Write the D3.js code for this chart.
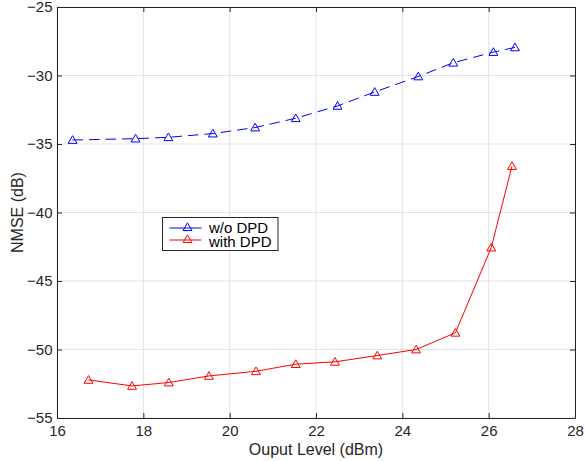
<!DOCTYPE html>
<html>
<head>
<meta charset="utf-8">
<script src="https://cdn.jsdelivr.net/npm/d3@7"></script>
<style>
  html, body { margin: 0; padding: 0; background: #fff; }
  svg { display: block; font-family: "Liberation Sans", Arial, Helvetica, sans-serif; }
</style>
</head>
<body>
<svg id="chart" width="586" height="461"></svg>
<script>
// Output power level (dBm) and NMSE (dB) for each configuration
const woDpdX = [16.36, 17.82, 18.58, 19.61, 20.59, 21.53, 22.50, 23.36, 24.37, 25.18, 26.11, 26.61];
const woDpdY = [-34.71, -34.61, -34.51, -34.24, -33.80, -33.12, -32.22, -31.20, -30.07, -29.07, -28.29, -27.95];
const withDpdX = [16.73, 17.74, 18.59, 19.52, 20.61, 21.53, 22.44, 23.42, 24.32, 25.23, 26.06, 26.54];
const withDpdY = [-52.22, -52.66, -52.41, -51.93, -51.59, -51.07, -50.90, -50.44, -50.00, -48.78, -42.56, -36.61];
const xTicks = [16, 18, 20, 22, 24, 26, 28];
const yTicks = [-55, -50, -45, -40, -35, -30, -25];
const seriesNames = ["w/o DPD", "with DPD"];

const svg = d3.select("#chart");
const margin = { left: 57, right: 11, top: 7, bottom: 43 };
const W = 586, H = 461;
const x = d3.scaleLinear().domain([16, 28]).range([margin.left, W - margin.right]);
const y = d3.scaleLinear().domain([-55, -25]).range([H - margin.bottom, margin.top]);

const axisColor = "#262626";
const gridColor = "#e3e3e3";

// grid
const grid = svg.append("g");
grid.selectAll("line.gx").data(xTicks).join("line")
  .attr("x1", d => x(d)).attr("x2", d => x(d))
  .attr("y1", y.range()[0]).attr("y2", y.range()[1])
  .attr("stroke", gridColor).attr("stroke-width", 1);
grid.selectAll("line.gy").data(yTicks).join("line")
  .attr("y1", d => y(d)).attr("y2", d => y(d))
  .attr("x1", x.range()[0]).attr("x2", x.range()[1])
  .attr("stroke", gridColor).attr("stroke-width", 1);

// axes (inward ticks, box on all four sides)
function styleAxis(g) {
  g.selectAll("path").attr("stroke", axisColor);
  g.selectAll("line").attr("stroke", axisColor);
  g.selectAll("text").attr("fill", axisColor).style("font-size", "15px");
}
const fmt = d3.format("d");
svg.append("g").attr("transform", `translate(0,${y(-55)})`)
  .call(d3.axisBottom(x).tickValues(xTicks).tickFormat(fmt).tickSize(-5).tickSizeOuter(0).tickPadding(7))
  .call(styleAxis);
svg.append("g").attr("transform", `translate(0,${y(-25)})`)
  .call(d3.axisTop(x).tickValues(xTicks).tickFormat("").tickSize(-5).tickSizeOuter(0))
  .call(styleAxis);
svg.append("g").attr("transform", `translate(${x(16)},0)`)
  .call(d3.axisLeft(y).tickValues(yTicks).tickFormat(fmt).tickSize(-5).tickSizeOuter(0).tickPadding(4.5))
  .call(styleAxis);
svg.append("g").attr("transform", `translate(${x(28)},0)`)
  .call(d3.axisRight(y).tickValues(yTicks).tickFormat("").tickSize(-5).tickSizeOuter(0))
  .call(styleAxis);

// axis titles
svg.append("text").attr("x", (x(16) + x(28)) / 2).attr("y", 455)
  .attr("text-anchor", "middle").attr("fill", axisColor).style("font-size", "16px")
  .text("Ouput Level (dBm)");
svg.append("text").attr("transform", `translate(23,${(y(-25) + y(-55)) / 2}) rotate(-90)`)
  .attr("text-anchor", "middle").attr("fill", axisColor).style("font-size", "16px")
  .text("NMSE (dB)");

// series
const tri = d3.symbol().type(d3.symbolTriangle).size(34);
const series = [
  { name: seriesNames[0], xs: woDpdX, ys: woDpdY, color: "#0000ff", dash: "10.5,6" },
  { name: seriesNames[1], xs: withDpdX, ys: withDpdY, color: "#ff0000", dash: null }
];
const line = d3.line().x(d => x(d[0])).y(d => y(d[1]));
series.forEach(s => {
  const pts = s.xs.map((v, i) => [v, s.ys[i]]);
  svg.append("path").datum(pts).attr("d", line)
    .attr("fill", "none").attr("stroke", s.color).attr("stroke-width", 1)
    .attr("stroke-dasharray", s.dash);
  svg.append("g").selectAll("path").data(pts).join("path")
    .attr("d", tri)
    .attr("transform", d => `translate(${x(d[0])},${y(d[1]) + 0.8})`)
    .attr("fill", "none").attr("stroke", s.color).attr("stroke-width", 1);
});

// legend
const lg = svg.append("g").attr("transform", "translate(162.5,217.5)");
lg.append("rect").attr("width", 115.5).attr("height", 33)
  .attr("fill", "#fff").attr("stroke", axisColor).attr("stroke-width", 1);
const rowLine = [10.5, 22.5];
const rowText = [15.5, 29.5];
series.forEach((s, i) => {
  const cy = rowLine[i];
  lg.append("line").attr("x1", 7).attr("x2", 39).attr("y1", cy).attr("y2", cy)
    .attr("stroke", s.color).attr("stroke-width", 1);
  lg.append("path").attr("d", tri).attr("transform", `translate(25,${cy})`)
    .attr("fill", "none").attr("stroke", s.color).attr("stroke-width", 1);
  lg.append("text").attr("x", 46.5).attr("y", rowText[i])
    .attr("fill", "#000").style("font-size", "15px").text(s.name);
});
</script>
</body>
</html>
